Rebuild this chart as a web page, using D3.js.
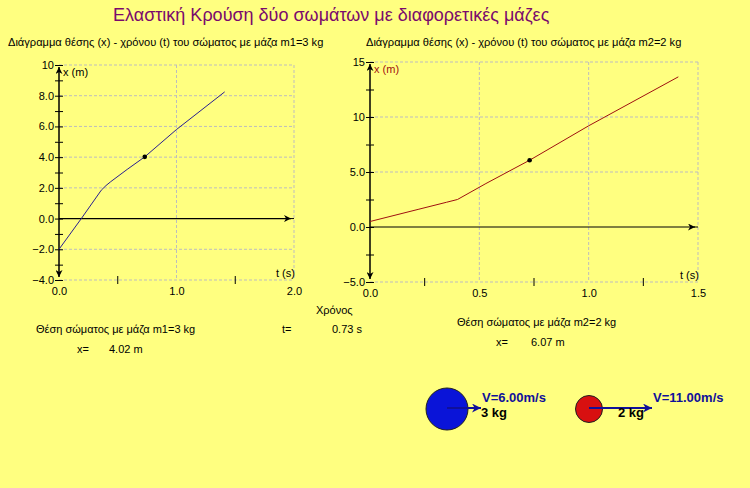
<!DOCTYPE html>
<html>
<head>
<meta charset="utf-8">
<script src="https://cdn.jsdelivr.net/npm/d3@7"></script>
<style>
  body { margin: 0; background: #ffff80; }
  svg { display: block; }
  text { font-family: Arial, "Liberation Sans", sans-serif; }
  .tick text { font-size: 11px; }
</style>
</head>
<body>
<div id="canvas"></div>
<script>
// values
var title = "Ελαστική Κρούση δύο σωμάτων με διαφορετικές μάζες";
var subtitles = [
  "Διάγραμμα θέσης (x) - χρόνου (t) του σώματος με μάζα m1=3 kg",
  "Διάγραμμα θέσης (x) - χρόνου (t) του σώματος με μάζα m2=2 kg"
];

// body 1 (m1 = 3 kg)
var t1 = [0, 0.19, 0.36, 0.40, 0.44, 0.58, 0.73, 1.0, 1.41];
var x1 = [-2.0, 0.0, 1.85, 2.15, 2.4, 3.2, 4.02, 5.8, 8.25];
var yTicks1 = [-4, -2, 0, 2, 4, 6, 8, 10];
var yMinor1 = [-3, -1, 1, 3, 5, 7, 9];
var xTicks1 = [0, 1.0, 2.0];
var xMinor1 = [0.5, 1.5];

// body 2 (m2 = 2 kg)
var t2 = [0, 0.22, 0.35, 0.40, 0.53, 0.73, 1.0, 1.41];
var x2 = [0.5, 1.6, 2.25, 2.5, 3.95, 6.07, 9.2, 13.65];
var yTicks2 = [-5, 0, 5, 10, 15];
var yMinor2 = [-2.5, 2.5, 7.5, 12.5];
var xTicks2 = [0, 0.5, 1.0, 1.5];
var xMinor2 = [0.25, 0.75, 1.25];

// current instant
var tNow = 0.73;
var xNow = [4.02, 6.07];
var masses = [3, 2];
var speeds = [6.0, 11.0];

var svg = d3
  .select("#canvas")
  .append("svg")
  .attr("width", 750)
  .attr("height", 488);

svg.append("rect").attr("width", 750).attr("height", 488).attr("fill", "#ffff80");

// arrow markers
var defs = svg.append("defs");
function marker(id, color, w, h) {
  defs
    .append("marker")
    .attr("id", id)
    .attr("viewBox", "0 0 10 10")
    .attr("refX", 10)
    .attr("refY", 5)
    .attr("markerUnits", "userSpaceOnUse")
    .attr("markerWidth", w)
    .attr("markerHeight", h)
    .attr("orient", "auto")
    .append("path")
    .attr("d", "M0,0 L10,5 L0,10 L3,5 Z")
    .attr("fill", color);
}
marker("ax", "#000", 9, 7);
marker("vel", "#10109a", 9, 9);

svg
  .append("text")
  .attr("x", 113)
  .attr("y", 21)
  .attr("font-size", "18px")
  .attr("fill", "#7a0a6c")
  .text(title);

function drawPlot(cfg) {
  var x = d3.scaleLinear().domain(cfg.xDomain).range([cfg.left, cfg.right]);
  var y = d3.scaleLinear().domain(cfg.yDomain).range([cfg.bottom, cfg.top]);
  var g = svg.append("g");

  // subtitle
  g.append("text")
    .attr("x", cfg.subX)
    .attr("y", 46)
    .attr("font-size", "11.1px")
    .text(cfg.subtitle);

  // dashed grid
  g.selectAll(".hgrid")
    .data(cfg.yTicks.filter((d) => d != 0))
    .enter()
    .append("line")
    .attr("x1", cfg.left)
    .attr("x2", cfg.right)
    .attr("y1", (d) => y(d))
    .attr("y2", (d) => y(d))
    .attr("stroke", "#bdbdbd")
    .attr("stroke-dasharray", "3,2");
  g.selectAll(".vgrid")
    .data(cfg.xTicks.filter((d) => d != 0))
    .enter()
    .append("line")
    .attr("x1", (d) => x(d))
    .attr("x2", (d) => x(d))
    .attr("y1", cfg.top)
    .attr("y2", cfg.bottom)
    .attr("stroke", "#bdbdbd")
    .attr("stroke-dasharray", "3,2");

  // y axis with labels, ticks crossing the axis
  var yAxis = g
    .append("g")
    .attr("transform", "translate(" + x(0) + ",0)")
    .call(
      d3.axisLeft(y).tickValues(cfg.yTicks).tickSize(4).tickPadding(1).tickFormat(cfg.yFormat)
    );
  yAxis.select(".domain").remove();
  g.append("g")
    .attr("transform", "translate(" + x(0) + ",0)")
    .call(d3.axisRight(y).tickValues(cfg.yTicks.concat(cfg.yMinor)).tickSize(4).tickFormat(""))
    .select(".domain")
    .remove();
  g.append("g")
    .attr("transform", "translate(" + x(0) + ",0)")
    .call(d3.axisLeft(y).tickValues(cfg.yMinor).tickSize(4).tickFormat(""))
    .select(".domain")
    .remove();

  // x tick labels along the bottom
  var xAxis = g
    .append("g")
    .attr("transform", "translate(0," + y(cfg.yDomain[0]) + ")")
    .call(d3.axisBottom(x).tickValues(cfg.xTicks).tickSize(0).tickPadding(7).tickFormat(d3.format(".1f")));
  xAxis.select(".domain").remove();
  g.selectAll(".xminor")
    .data(cfg.xMinor)
    .enter()
    .append("line")
    .attr("x1", (d) => x(d))
    .attr("x2", (d) => x(d))
    .attr("y1", y(cfg.yDomain[0]) - 4)
    .attr("y2", y(cfg.yDomain[0]) + 4)
    .attr("stroke", "#000");

  // axis lines with arrows
  g.append("line")
    .attr("x1", x(0))
    .attr("x2", x(0))
    .attr("y1", (y(0) + y(cfg.yDomain[1])) / 2)
    .attr("y2", y(cfg.yDomain[1]) + 2)
    .attr("stroke", "#000")
    .attr("stroke-width", 1.5)
    .attr("marker-end", "url(#ax)");
  g.append("line")
    .attr("x1", x(0))
    .attr("x2", x(0))
    .attr("y1", (y(0) + y(cfg.yDomain[1])) / 2)
    .attr("y2", y(cfg.yDomain[0]) - 3)
    .attr("stroke", "#000")
    .attr("stroke-width", 1.5)
    .attr("marker-end", "url(#ax)");
  g.append("line")
    .attr("x1", x(0))
    .attr("x2", cfg.right - 3)
    .attr("y1", y(0))
    .attr("y2", y(0))
    .attr("stroke", "#000")
    .attr("stroke-width", 1.2)
    .attr("marker-end", "url(#ax)");
  g.append("line")
    .attr("x1", cfg.right - 4)
    .attr("x2", cfg.right)
    .attr("y1", y(0))
    .attr("y2", y(0))
    .attr("stroke", "#000");

  g.append("text")
    .attr("x", x(0) + 4)
    .attr("y", y(cfg.yDomain[1]) + 11)
    .attr("font-size", "11px")
    .attr("fill", cfg.labelColor)
    .text("x (m)");
  g.append("text")
    .attr("x", cfg.right - 18)
    .attr("y", y(cfg.yDomain[0]) - 3)
    .attr("font-size", "11px")
    .text("t (s)");

  // the curve
  var pts = cfg.t.map((d, i) => [d, cfg.xs[i]]);
  g.append("path")
    .datum(pts)
    .attr("d", d3.line().x((d) => x(d[0])).y((d) => y(d[1])))
    .attr("fill", "none")
    .attr("stroke", cfg.color)
    .attr("stroke-width", 1);

  g.append("circle")
    .attr("cx", x(tNow))
    .attr("cy", y(cfg.now))
    .attr("r", 2.3)
    .attr("fill", "#000");
}

drawPlot({
  xDomain: [0, 2],
  yDomain: [-4, 10],
  left: 59,
  right: 294,
  top: 65,
  bottom: 280,
  yTicks: yTicks1,
  yMinor: yMinor1,
  xTicks: xTicks1,
  xMinor: xMinor1,
  yFormat: (d) => (d == 10 ? "10" : d3.format(".1f")(d)),
  t: t1,
  xs: x1,
  now: xNow[0],
  color: "#2a2090",
  labelColor: "#000",
  subtitle: subtitles[0],
  subX: 8,
});

drawPlot({
  xDomain: [0, 1.5],
  yDomain: [-5, 15],
  left: 370,
  right: 698,
  top: 62,
  bottom: 282,
  yTicks: yTicks2,
  yMinor: yMinor2,
  xTicks: xTicks2,
  xMinor: xMinor2,
  yFormat: (d) => (d >= 10 ? String(d) : d3.format(".1f")(d)),
  t: t2,
  xs: x2,
  now: xNow[1],
  color: "#a01010",
  labelColor: "#a01010",
  subtitle: subtitles[1],
  subX: 366,
});

// readouts
var info = [
  { x: 316, y: 314, s: "Χρόνος" },
  { x: 36, y: 333, s: "Θέση σώματος με μάζα m1=" + masses[0] + " kg" },
  { x: 282, y: 333, s: "t=" },
  { x: 332, y: 333, s: tNow.toFixed(2) + " s" },
  { x: 77, y: 353, s: "x=" },
  { x: 109, y: 353, s: xNow[0].toFixed(2) + " m" },
  { x: 457, y: 326, s: "Θέση σώματος με μάζα m2=" + masses[1] + " kg" },
  { x: 496, y: 346, s: "x=" },
  { x: 531, y: 346, s: xNow[1].toFixed(2) + " m" },
];
svg
  .selectAll(".info")
  .data(info)
  .enter()
  .append("text")
  .attr("x", (d) => d.x)
  .attr("y", (d) => d.y)
  .attr("font-size", "11px")
  .text((d) => d.s);

// the two bodies with their velocity arrows
var balls = [
  { cx: 447, r: 21, fill: "#0a14d8", tip: 481 },
  { cx: 589, r: 13.5, fill: "#d81010", tip: 652 },
];
var ballG = svg.selectAll(".ball").data(balls).enter().append("g");
ballG
  .append("circle")
  .attr("cx", (d) => d.cx)
  .attr("cy", 409)
  .attr("r", (d) => d.r)
  .attr("fill", (d) => d.fill)
  .attr("stroke", "#202020");
ballG
  .append("line")
  .attr("x1", (d) => d.cx)
  .attr("x2", (d) => d.tip)
  .attr("y1", 408)
  .attr("y2", 408)
  .attr("stroke", "#10109a")
  .attr("stroke-width", 2)
  .attr("marker-end", "url(#vel)");
ballG
  .append("text")
  .attr("x", (d) => d.tip + 1)
  .attr("y", 402)
  .attr("font-size", "13px")
  .attr("font-weight", "bold")
  .attr("fill", "#10109a")
  .text((d, i) => "V=" + speeds[i].toFixed(2) + "m/s");
ballG
  .append("text")
  .attr("x", (d, i) => (i == 0 ? d.tip : d.tip - 34))
  .attr("y", 417)
  .attr("font-size", "13px")
  .attr("font-weight", "bold")
  .attr("fill", "#000")
  .text((d, i) => masses[i] + " kg");
</script>
</body>
</html>
